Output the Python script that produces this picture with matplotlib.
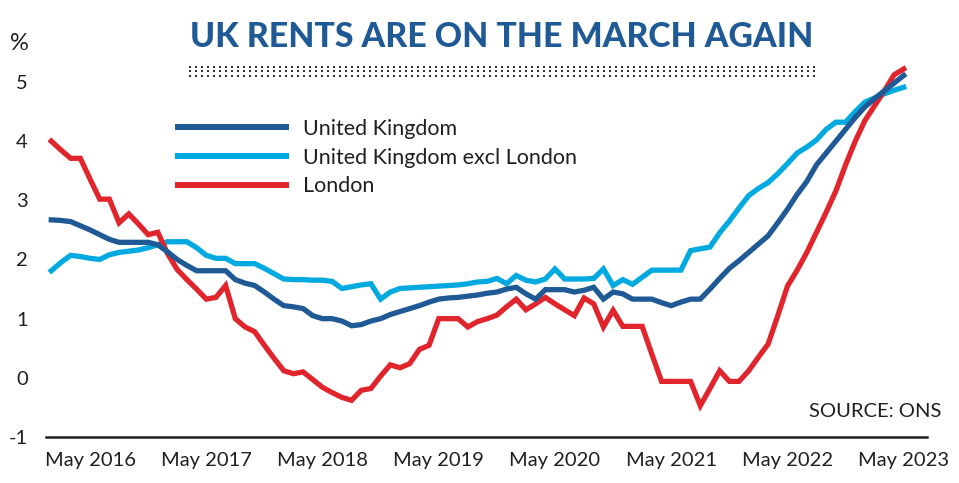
import numpy as np
import matplotlib
matplotlib.use("Agg")
import matplotlib.pyplot as plt
from matplotlib.lines import Line2D

# annual % change in private rents, monthly from Jan 2016 to May 2023
uk = [2.67, 2.66, 2.64, 2.57, 2.50, 2.42, 2.34, 2.29, 2.29, 2.29, 2.29, 2.25,
      2.13, 2.00, 1.90, 1.81, 1.81, 1.81, 1.81, 1.66, 1.60, 1.56, 1.45, 1.33,
      1.22, 1.20, 1.17, 1.05, 1.00, 1.00, 0.96, 0.88, 0.90, 0.96, 1.00, 1.07,
      1.12, 1.17, 1.22, 1.28, 1.33, 1.35, 1.36, 1.38, 1.40, 1.43, 1.45, 1.50,
      1.53, 1.42, 1.33, 1.49, 1.49, 1.49, 1.45, 1.48, 1.53, 1.33, 1.45, 1.42,
      1.33, 1.33, 1.33, 1.27, 1.22, 1.28, 1.33, 1.33, 1.50, 1.68, 1.85, 1.98,
      2.12, 2.26, 2.40, 2.62, 2.85, 3.10, 3.32, 3.60, 3.80, 4.00, 4.20, 4.40,
      4.58, 4.72, 4.85, 4.98, 5.11]

uk_excl_london = [1.81, 1.95, 2.07, 2.05, 2.02, 2.00, 2.08, 2.12, 2.14, 2.16, 2.20, 2.25,
                  2.30, 2.30, 2.30, 2.20, 2.07, 2.02, 2.02, 1.93, 1.93, 1.93, 1.85, 1.76,
                  1.67, 1.66, 1.66, 1.65, 1.65, 1.63, 1.51, 1.54, 1.57, 1.59, 1.33, 1.45,
                  1.51, 1.52, 1.53, 1.54, 1.55, 1.56, 1.57, 1.59, 1.62, 1.63, 1.68, 1.59,
                  1.73, 1.65, 1.62, 1.67, 1.84, 1.67, 1.67, 1.67, 1.68, 1.84, 1.56, 1.66,
                  1.58, 1.70, 1.82, 1.82, 1.82, 1.82, 2.15, 2.18, 2.21, 2.45, 2.65, 2.87,
                  3.08, 3.20, 3.30, 3.45, 3.62, 3.80, 3.90, 4.02, 4.20, 4.32, 4.32, 4.50,
                  4.66, 4.73, 4.80, 4.86, 4.91]

london = [4.00, 3.85, 3.71, 3.71, 3.36, 3.02, 3.02, 2.62, 2.77, 2.60, 2.42, 2.46,
          2.10, 1.83, 1.66, 1.50, 1.33, 1.36, 1.56, 1.00, 0.86, 0.78, 0.55, 0.33,
          0.12, 0.07, 0.10, -0.03, -0.16, -0.25, -0.33, -0.38, -0.21, -0.18, 0.03, 0.22,
          0.17, 0.24, 0.48, 0.55, 1.00, 1.00, 1.00, 0.86, 0.95, 1.00, 1.06, 1.20,
          1.33, 1.15, 1.25, 1.36, 1.25, 1.15, 1.05, 1.35, 1.25, 0.86, 1.14, 0.87,
          0.87, 0.87, 0.40, -0.06, -0.06, -0.06, -0.06, -0.47, -0.18, 0.12, -0.06, -0.06,
          0.12, 0.35, 0.57, 1.05, 1.55, 1.82, 2.12, 2.46, 2.80, 3.16, 3.60, 4.00,
          4.35, 4.60, 4.85, 5.12, 5.22]

months = np.arange(len(uk))
tick_pos = np.arange(4, len(uk), 12)
tick_labels = ["May %d" % y for y in range(2016, 2024)]

DARK = "#1f5a96"
LIGHT = "#00a9e0"
RED = "#e0252d"
TXT = "#231f20"

plt.rcParams['font.family'] = ['Lato', 'DejaVu Sans']

fig = plt.figure(figsize=(9.59, 4.83), dpi=100)
ax = fig.add_axes([0.048, 0.0952, 0.9186, 0.7841])

ax.plot(months, uk_excl_london, color=LIGHT, lw=3.8, solid_joinstyle='miter',
        label="United Kingdom excl London")
ax.plot(months, london, color=RED, lw=3.8, solid_joinstyle='miter', label="London")
ax.plot(months, uk, color=DARK, lw=3.8, solid_joinstyle='miter', label="United Kingdom")

ax.set_xlim(-0.54, 90.4)
ax.set_ylim(-1, 5.4)
ax.set_yticks([-1, 0, 1, 2, 3, 4, 5])
ax.set_yticklabels(["-1", "0", "1", "2", "3", "4", "5"])
ax.set_xticks(tick_pos)
ax.set_xticklabels(tick_labels)
ax.tick_params(axis='both', length=0, labelsize=14.5, colors=TXT)
ax.tick_params(axis='x', pad=11)
ax.tick_params(axis='y', pad=13)

for s in ['top', 'right', 'left']:
    ax.spines[s].set_visible(False)
ax.spines['bottom'].set_color(TXT)
ax.spines['bottom'].set_linewidth(1.8)

# legend in the order shown on the chart
h, l = ax.get_legend_handles_labels()
order = [2, 0, 1]
leg = ax.legend([h[i] for i in order], [l[i] for i in order],
                loc='upper left', bbox_to_anchor=(175 / 959, 1 - 119 / 483),
                bbox_transform=fig.transFigure, frameon=False, fontsize=15.5,
                handlelength=5.3, handletextpad=0.65, labelspacing=0.4,
                borderpad=0, borderaxespad=0)
for t in leg.get_texts():
    t.set_color(TXT)
for ln in leg.get_lines():
    ln.set_linewidth(4.3)
    ln.set_solid_capstyle('butt')

fig.text(0.523, 0.9027, "UK RENTS ARE ON THE MARCH AGAIN", ha='center', va='baseline',
         fontsize=24.3, fontweight='black', color=DARK, family=['Lato', 'DejaVu Sans'])

# dotted rule under the title
for yy in [0.862, 0.852, 0.842]:
    fig.add_artist(Line2D([0.197, 0.852], [yy, yy], transform=fig.transFigure,
                          color="#333333", lw=1.44, linestyle=(0, (1, 2)),
                          solid_capstyle='butt', dash_capstyle='butt'))

fig.text(0.0104, 0.8965, "%", fontsize=17, color=TXT, va='baseline')
fig.text(0.982, 0.1366, "SOURCE: ONS", fontsize=14.5, color=TXT, ha='right', va='baseline')

fig.savefig("out.png", dpi=100)
